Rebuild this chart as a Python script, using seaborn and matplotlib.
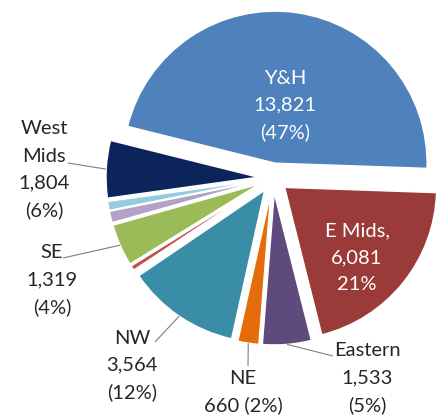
import numpy as np
import matplotlib
matplotlib.use("Agg")
import matplotlib.pyplot as plt
import seaborn as sns

# ---- data (clockwise order, starting with Y&H) ----
regions = ["Y&H", "E Mids", "Eastern", "NE", "NW", "Other A", "Other B", "SE", "Other C", "Other D", "West Mids"]
values = [13821, 6081, 1533, 660, 3564, 50, 150, 1319, 360, 280, 1804]
colors = ["#4F81BD", "#9B3B39", "#5F4A7E", "#E46C0A", "#3A8DA6", "#A89B6E",
          "#C0504D", "#9BBB59", "#B3A2C7", "#93CDDD", "#0C2459"]

sns.set_theme(style="white")
plt.rcParams["font.family"] = ["Lato", "DejaVu Sans"]

total = sum(values)
pcts = [round(v / total * 100) for v in values]

fig = plt.figure(figsize=(4.42, 4.15), dpi=100)
ax = fig.add_axes([0, 0, 1, 1])
W, H = 442, 415
cx, cy, R = 273, H - 178, 152
wedges, _ = ax.pie(values, colors=colors, startangle=166, counterclock=False,
                   explode=[15] * len(values), radius=R, center=(cx, cy),
                   wedgeprops=dict(edgecolor="white", linewidth=1.0), frame=False)
ax.set_xlim(0, W)
ax.set_ylim(0, H)
ax.set_aspect("equal")
ax.axis("off")

FS = 14.5
TXT = "#262626"
STEP = 27


def fmt(v):
    return f"{v:,}"


def lines_at(x, ytop, lines, color=TXT):
    for i, s in enumerate(lines):
        ax.text(x, H - (ytop + i * STEP), s, ha="center", va="center",
                fontsize=FS, color=color)


def wedge_point(w):
    mid = np.deg2rad((w.theta1 + w.theta2) / 2)
    c = w.center
    return c[0] + w.r * np.cos(mid), c[1] + w.r * np.sin(mid)


idx = {r: i for i, r in enumerate(regions)}

# inside labels
i = idx["Y&H"]
lines_at(285, 78, [regions[i], fmt(values[i]), f"({pcts[i]}%)"], color="white")
i = idx["E Mids"]
lines_at(357, 231, [regions[i] + ",", fmt(values[i]), f"{pcts[i]}%"], color="white")

# outside labels with leader lines
outside = [
    ("West Mids", 44, 129, ["West", "Mids"], (68, 163)),
    ("SE", 52, 253, ["SE"], (63, 258)),
    ("NW", 132, 338, ["NW"], (155, 342)),
    ("NE", 243, 378, ["NE"], (248, 366)),
    ("Eastern", 367, 351, ["Eastern"], (333, 356)),
]
for name, x, ytop, head, start in outside:
    i = idx[name]
    v, p = values[i], pcts[i]
    if name == "NE":
        ls = head + [f"{v} ({p}%)"]
    else:
        ls = head + [fmt(v), f"({p}%)"]
    lines_at(x, ytop, ls)
    px, py = wedge_point(wedges[i])
    ax.plot([start[0], px], [H - start[1], py], color="#7F7F7F", lw=0.8,
            solid_capstyle="butt")

fig.savefig("out.png", dpi=100)
